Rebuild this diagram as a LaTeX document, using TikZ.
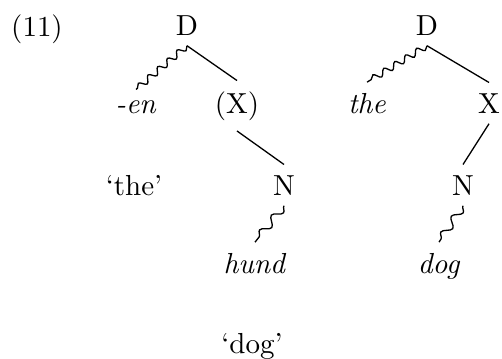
\documentclass[tikz,border=0pt]{standalone}
\usetikzlibrary{decorations.pathmorphing}
\begin{document}
\begin{tikzpicture}[x=0.345pt,y=-0.345pt,
  lab/.style={anchor=base,inner sep=3.5pt},
  wav/.style={decorate,decoration={snake,amplitude=1.1pt,segment length=4.4pt}},
  wavs/.style={decorate,decoration={snake,amplitude=1.4pt,segment length=6.5pt}},
  edge/.style={line width=0.45pt}]
\useasboundingbox (0,0) rectangle (502,358);
\node[lab] (ex) at (37,36) {(11)};
% left tree
\node[lab] (D1) at (187,35) {D};
\node[lab] (en) at (136,113) {\textit{-en}};
\node[lab] (X1) at (237,113) {(X)};
\node[lab] (glthe) at (134,195) {`the'};
\node[lab] (N1) at (284,195) {N};
\node[lab] (hund) at (255,273) {\textit{hund}};
\node[lab] (gldog) at (252,353) {`dog'};
% right tree
\node[lab] (D2) at (427,35) {D};
\node[lab] (the) at (367,113) {\textit{the}};
\node[lab] (X2) at (489,113) {X};
\node[lab] (N2) at (463,195) {N};
\node[lab] (dog) at (439,273) {\textit{dog}};
% connectors
\draw[edge,wav] (D1.south) -- (en.north);
\draw[edge] (D1.south) -- (X1.north);
\draw[edge] (X1.south) -- (N1.north);
\draw[edge,wavs] (N1.south) -- (hund.north);
\draw[edge,wav] (D2.south) -- (the.north);
\draw[edge] (D2.south) -- (X2.north);
\draw[edge] (X2.south) -- (N2.north);
\draw[edge,wavs] (N2.south) -- (dog.north);
\end{tikzpicture}
\end{document}
